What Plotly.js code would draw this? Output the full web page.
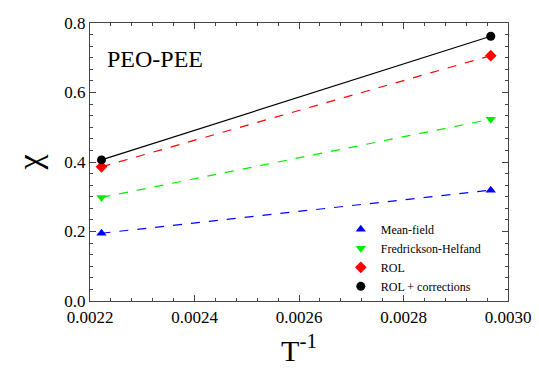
<!DOCTYPE html>
<html>
<head>
<meta charset="utf-8">
<script src="https://cdn.plot.ly/plotly-3.0.1.min.js"></script>
<style>
html,body{margin:0;padding:0;background:#fff;}
#chart{width:539px;height:381px;}
</style>
</head>
<body>
<div id="chart"></div>
<script>
// Inverse temperature (1/K) of the two measurements
const invT = [0.002222, 0.002967];

// Flory-Huggins chi parameter from each model
const meanField = [0.195, 0.319];
const fredricksonHelfand = [0.298, 0.523];
const rol = [0.386, 0.706];
const rolCorrections = [0.406, 0.762];

const seriesNames = ['Mean-field', 'Fredrickson-Helfand', 'ROL', 'ROL + corrections'];
const seriesValues = [meanField, fredricksonHelfand, rol, rolCorrections];
const colors = ['#0000ff', '#00ee00', '#ff0000', '#000000'];
const symbols = ['triangle-up', 'triangle-down', 'diamond', 'circle'];
const dashes = ['dash', 'dash', 'dash', 'solid'];

const serif = 'Times New Roman';

const traces = [];
seriesValues.forEach((vals, i) => {
  traces.push({
    x: invT, y: vals, mode: 'lines+markers', showlegend: false,
    line: {color: colors[i], width: 1.2, dash: dashes[i]},
    marker: {color: colors[i], symbol: symbols[i], size: 9}
  });
});
// legend entries show the marker only
seriesValues.forEach((vals, i) => {
  traces.push({
    x: [null], y: [null], mode: 'markers', name: seriesNames[i],
    marker: {color: colors[i], symbol: symbols[i], size: 9}
  });
});

const axisCommon = {
  showline: true, linecolor: '#444', linewidth: 1.2, mirror: 'ticks',
  ticks: 'inside', ticklen: 6, tickcolor: '#444', tickwidth: 1,
  showgrid: false, zeroline: false,
  tickfont: {family: serif, size: 17, color: '#000'}
};

const layout = {
  width: 539, height: 381,
  margin: {l: 90, r: 31, t: 23, b: 80},
  paper_bgcolor: '#fff', plot_bgcolor: '#fff',
  font: {family: serif, color: '#000'},
  xaxis: Object.assign({}, axisCommon, {
    range: [0.0022, 0.0030], dtick: 0.0002, tick0: 0.0022, tickformat: '.4f',
    minor: {dtick: 0.00004, ticks: 'inside', ticklen: 3, tickcolor: '#444', showgrid: false},
    title: {text: 'T<sup>-1</sup>', font: {family: serif, size: 30, color: '#000'}, standoff: 14}
  }),
  yaxis: Object.assign({}, axisCommon, {
    range: [0, 0.8], dtick: 0.2, tick0: 0, tickformat: '.1f',
    minor: {dtick: 0.2 / 6, ticks: 'inside', ticklen: 3, tickcolor: '#444', showgrid: false},
    title: {text: 'χ', font: {family: serif, size: 34, color: '#000'}, standoff: 12}
  }),
  legend: {
    x: 0.6, y: 0.31, xanchor: 'left', yanchor: 'top',
    bgcolor: 'rgba(0,0,0,0)', font: {family: serif, size: 12, color: '#000'},
    itemwidth: 30, tracegroupgap: 0
  },
  annotations: [{
    text: 'PEO-PEE', xref: 'paper', yref: 'paper', x: 0.037, y: 0.87,
    xanchor: 'left', yanchor: 'middle', showarrow: false,
    font: {family: serif, size: 24, color: '#000'}
  }]
};

Plotly.newPlot('chart', traces, layout, {displayModeBar: false, staticPlot: true});
</script>
</body>
</html>
